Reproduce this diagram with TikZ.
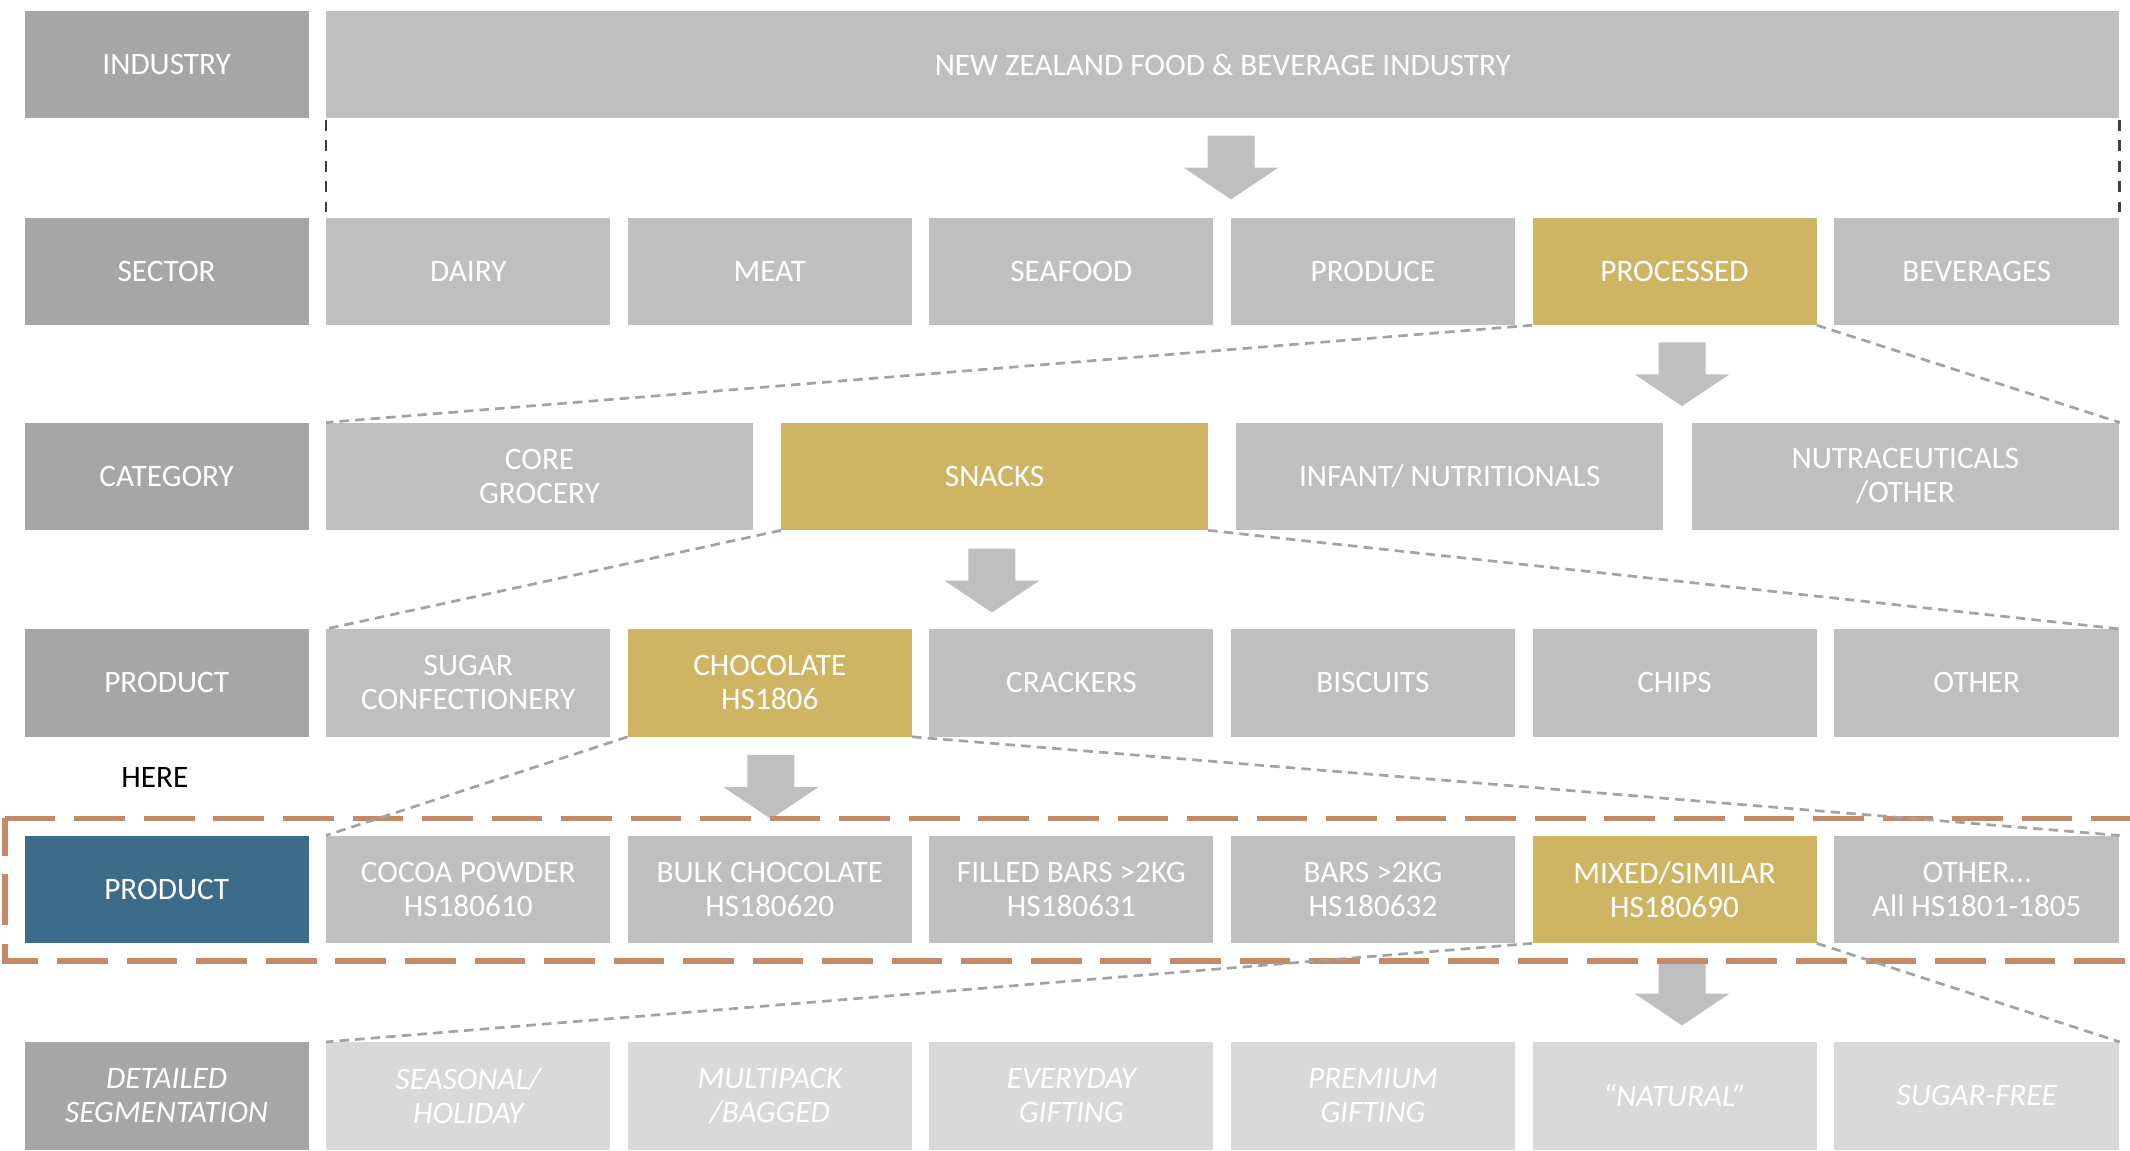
\documentclass[tikz,border=0pt]{standalone}
\usepackage{fontspec}
\setmainfont{Carlito}
\definecolor{labgray}{HTML}{A6A6A6}
\definecolor{boxgray}{HTML}{BFBFBF}
\definecolor{lightbox}{HTML}{D9D9D9}
\definecolor{goldc}{HTML}{CFB464}
\definecolor{bluec}{HTML}{3D6B8A}
\definecolor{orangec}{HTML}{C48966}
\definecolor{conngray}{HTML}{A3A3A3}
\definecolor{darkc}{HTML}{404040}
\begin{document}
\begin{tikzpicture}[x=1pt,y=-1pt,
  base/.style={anchor=north west, inner sep=0pt, minimum height=79pt, text=white, align=center, font=\fontsize{23}{25}\selectfont},
  lab/.style={base, fill=labgray, minimum width=209pt},
  nar/.style={base, fill=boxgray, minimum width=209pt},
  wide/.style={base, fill=boxgray, minimum width=314pt},
  seg/.style={base, fill=lightbox, minimum width=209pt, font=\fontsize{23}{25}\selectfont\itshape},
  hl/.style={fill=goldc},
  conn/.style={draw=conngray, line width=2pt, dash pattern=on 7pt off 4.5pt},
  vdash/.style={draw=darkc, line width=1.8pt, dash pattern=on 8pt off 7pt},
  frame/.style={draw=orangec, line width=4.2pt, dash pattern=on 37.3pt off 13.9pt},
  blockarrow/.pic={\fill[boxgray] (-17.3,0) -- (17.3,0) -- (17.3,23.5) -- (35,23.5) -- (0,47) -- (-35,23.5) -- (-17.3,23.5) -- cycle;}
]
\useasboundingbox (0,0) rectangle (1568,847);

\node[lab] (lind) at (18,8) {INDUSTRY};
\node[base, fill=boxgray, minimum width=1320pt] (ind) at (240,8) {NEW ZEALAND FOOD \& BEVERAGE INDUSTRY};

\node[lab] (lsec) at (18,160) {SECTOR};
\node[nar] (dairy) at (240,160) {DAIRY};
\node[nar] (meat) at (462,160) {MEAT};
\node[nar] (seafood) at (684,160) {SEAFOOD};
\node[nar] (produce) at (906,160) {PRODUCE};
\node[nar, hl] (proc) at (1128,160) {PROCESSED};
\node[nar, minimum width=210pt] (bev) at (1350,160) {BEVERAGES};

\node[lab] (lcat) at (18,311) {CATEGORY};
\node[wide] (core) at (240,311) {CORE\\GROCERY};
\node[wide, hl] (snacks) at (575,311) {SNACKS};
\node[wide] (infant) at (910,311) {INFANT/ NUTRITIONALS};
\node[wide, minimum width=315pt] (nutra) at (1245,311) {NUTRACEUTICALS\\/OTHER};

\node[lab] (lprod) at (18,463) {PRODUCT};
\node[nar] (sugar) at (240,463) {SUGAR\\CONFECTIONERY};
\node[nar, hl] (choc) at (462,463) {CHOCOLATE\\HS1806};
\node[nar] (crackers) at (684,463) {CRACKERS};
\node[nar] (biscuits) at (906,463) {BISCUITS};
\node[nar] (chips) at (1128,463) {CHIPS};
\node[nar, minimum width=210pt] (other) at (1350,463) {OTHER};

\node[anchor=center, inner sep=0pt, font=\fontsize{23}{25}\selectfont, text=black] (here) at (114,572) {HERE};

\node[lab, fill=bluec] (lprod2) at (18,615) {PRODUCT};
\node[nar] (cocoa) at (240,615) {COCOA POWDER\\HS180610};
\node[nar] (bulk) at (462,615) {BULK CHOCOLATE\\HS180620};
\node[nar] (filled) at (684,615) {FILLED BARS >2KG\\HS180631};
\node[nar] (bars) at (906,615) {BARS >2KG\\HS180632};
\node[nar, hl] (mixed) at (1128,615) {MIXED/SIMILAR\\HS180690};
\node[nar, minimum width=210pt] (other2) at (1350,615) {OTHER…\\All HS1801-1805};

\node[lab, font=\fontsize{23}{25}\selectfont\itshape] (ldet) at (18,767) {DETAILED\\SEGMENTATION};
\node[seg] (seasonal) at (240,767) {SEASONAL/\\HOLIDAY};
\node[seg] (multipack) at (462,767) {MULTIPACK\\/BAGGED};
\node[seg] (everyday) at (684,767) {EVERYDAY\\GIFTING};
\node[seg] (premium) at (906,767) {PREMIUM\\GIFTING};
\node[seg] (natural) at (1128,767) {“NATURAL”};
\node[seg, minimum width=210pt] (sugarfree) at (1350,767) {SUGAR-FREE};

% block arrows
\path (ind.south) ++(6,12.4) pic {blockarrow};
\path (proc.south) ++(5.5,12.6) pic {blockarrow};
\path (snacks.south) ++(-2,13.5) pic {blockarrow};
\path (choc.south) ++(0.8,13.5) pic {blockarrow};
\path (mixed.south) ++(5.5,13.5) pic {blockarrow};

% orange frame
\coordinate (ftr) at (1590,602.5);
\coordinate (ftl) at (3.5,602.5);
\coordinate (fbl) at (3.5,707.5);
\coordinate (fbr) at (1590,707.5);
\draw[frame] (ftl) -- (ftr);
\draw[frame, dash phase=10pt] (ftl) -- (fbl) -- (fbr);

% black dashed verticals
\draw[vdash] ([yshift=-1pt]ind.south west) -- ([yshift=4pt]dairy.north west);
\draw[vdash] ([yshift=-1pt]ind.south east) -- ([yshift=4pt]bev.north east);

% funnel connectors
\draw[conn] (proc.south west) -- (core.north west);
\draw[conn] (proc.south east) -- (nutra.north east);
\draw[conn] (snacks.south west) -- (sugar.north west);
\draw[conn] (snacks.south east) -- (other.north east);
\draw[conn] (choc.south west) -- (cocoa.north west);
\draw[conn] (choc.south east) -- (other2.north east);
\draw[conn] (mixed.south west) -- (seasonal.north west);
\draw[conn] (mixed.south east) -- (sugarfree.north east);
\end{tikzpicture}
\end{document}
